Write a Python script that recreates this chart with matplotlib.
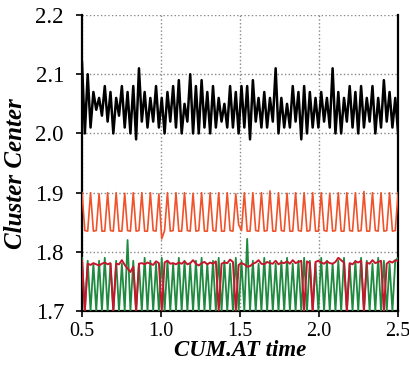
import numpy as np
import matplotlib
matplotlib.use('Agg')
import matplotlib.pyplot as plt

# time axis shared by all four cluster-center traces
t_start, t_end, n_pts = 0.5, 2.5, 112

black_vals = [
    2.12, 2.00, 2.10, 2.01, 2.07, 2.04, 2.06, 2.03,
    2.08, 2.02, 2.07, 2.00, 2.06, 2.03, 2.08, 2.01,
    2.07, 2.00, 2.08, 1.99, 2.11, 2.02, 2.07, 2.01,
    2.06, 2.02, 2.08, 2.01, 2.06, 2.00, 2.07, 2.02,
    2.08, 2.01, 2.09, 2.00, 2.05, 2.02, 2.10, 2.00,
    2.08, 2.00, 2.09, 2.01, 2.07, 2.00, 2.08, 2.01,
    2.06, 2.02, 2.05, 2.01, 2.08, 2.01, 2.07, 2.00,
    2.08, 2.01, 2.08, 1.99, 2.09, 2.02, 2.06, 2.01,
    2.07, 2.01, 2.06, 2.02, 2.11, 2.00, 2.06, 2.01,
    2.05, 2.01, 2.08, 2.02, 2.07, 1.99, 2.08, 2.00,
    2.07, 2.01, 2.06, 2.01, 2.07, 2.02, 2.06, 2.01,
    2.11, 2.00, 2.07, 2.00, 2.06, 2.02, 2.08, 2.01,
    2.07, 2.00, 2.08, 2.01, 2.06, 2.02, 2.08, 2.00,
    2.06, 2.01, 2.09, 2.02, 2.07, 2.01, 2.06, 2.00,
]

orange_vals = [
    1.900, 1.836, 1.835, 1.900, 1.835, 1.836, 1.898, 1.835, 1.835,
    1.900, 1.836, 1.835, 1.900, 1.835, 1.835, 1.899, 1.836, 1.835,
    1.900, 1.835, 1.836, 1.900, 1.835, 1.835, 1.900, 1.836, 1.835,
    1.898, 1.822, 1.836, 1.900, 1.835, 1.836, 1.900, 1.835, 1.835,
    1.900, 1.836, 1.835, 1.899, 1.835, 1.836, 1.900, 1.835, 1.835,
    1.900, 1.836, 1.835, 1.900, 1.835, 1.835, 1.900, 1.836, 1.835,
    1.898, 1.846, 1.836, 1.900, 1.835, 1.835, 1.900, 1.836, 1.835,
    1.900, 1.835, 1.836, 1.903, 1.835, 1.835, 1.900, 1.836, 1.835,
    1.899, 1.835, 1.835, 1.900, 1.836, 1.835, 1.900, 1.835, 1.836,
    1.900, 1.835, 1.835, 1.900, 1.836, 1.835, 1.899, 1.835, 1.836,
    1.900, 1.835, 1.835, 1.900, 1.836, 1.835, 1.900, 1.835, 1.836,
    1.902, 1.835, 1.835, 1.900, 1.836, 1.835, 1.900, 1.835, 1.836,
    1.900, 1.835, 1.836, 1.900,
]

green_vals = [
    1.790, 1.700, 1.785, 1.700, 1.780, 1.700, 1.785, 1.700,
    1.790, 1.700, 1.780, 1.700, 1.785, 1.700, 1.780, 1.700,
    1.820, 1.700, 1.785, 1.700, 1.780, 1.700, 1.790, 1.700,
    1.785, 1.700, 1.780, 1.700, 1.790, 1.700, 1.785, 1.700,
    1.780, 1.700, 1.790, 1.700, 1.785, 1.700, 1.780, 1.700,
    1.785, 1.700, 1.790, 1.700, 1.780, 1.700, 1.785, 1.700,
    1.790, 1.700, 1.785, 1.700, 1.780, 1.700, 1.790, 1.700,
    1.785, 1.700, 1.822, 1.700, 1.785, 1.700, 1.780, 1.700,
    1.790, 1.700, 1.785, 1.700, 1.780, 1.700, 1.785, 1.700,
    1.790, 1.700, 1.780, 1.700, 1.785, 1.700, 1.790, 1.700,
    1.785, 1.700, 1.780, 1.700, 1.790, 1.700, 1.785, 1.700,
    1.780, 1.700, 1.785, 1.700, 1.790, 1.700, 1.780, 1.700,
    1.785, 1.700, 1.790, 1.700, 1.785, 1.700, 1.780, 1.700,
    1.790, 1.700, 1.785, 1.700, 1.780, 1.700, 1.785, 1.790,
]

red_vals = [
    1.785, 1.700, 1.780, 1.778, 1.781, 1.779, 1.777, 1.780,
    1.782, 1.779, 1.781, 1.700, 1.780, 1.779, 1.786, 1.778,
    1.772, 1.766, 1.775, 1.700, 1.780, 1.781, 1.779, 1.782,
    1.780, 1.778, 1.784, 1.781, 1.700, 1.782, 1.785, 1.780,
    1.781, 1.779, 1.782, 1.780, 1.784, 1.779, 1.781, 1.786,
    1.780, 1.777, 1.781, 1.783, 1.779, 1.782, 1.780, 1.784,
    1.700, 1.780, 1.782, 1.781, 1.787, 1.783, 1.700, 1.778,
    1.781, 1.779, 1.775, 1.776, 1.780, 1.782, 1.786, 1.780,
    1.779, 1.783, 1.781, 1.780, 1.785, 1.779, 1.782, 1.781,
    1.784, 1.780, 1.786, 1.781, 1.783, 1.785, 1.700, 1.784,
    1.781, 1.700, 1.783, 1.785, 1.782, 1.780, 1.784, 1.781,
    1.780, 1.783, 1.790, 1.786, 1.782, 1.700, 1.781, 1.779,
    1.784, 1.782, 1.785, 1.700, 1.782, 1.780, 1.786, 1.781,
    1.783, 1.785, 1.700, 1.780, 1.784, 1.782, 1.786, 1.785,
]

x_ticks = [0.5, 1.0, 1.5, 2.0, 2.5]
y_ticks = [1.7, 1.8, 1.9, 2.0, 2.1, 2.2]

t = np.linspace(t_start, t_end, n_pts)

fig = plt.figure(figsize=(4.1, 3.66), dpi=100)
ax = fig.add_axes([0.2, 0.150, 0.771, 0.809])

ax.plot(t, black_vals, color='black', lw=1.8, zorder=3)
ax.plot(t, orange_vals, color='#f0522a', lw=1.2, zorder=3)
ax.plot(t, green_vals, color='#1f8a3f', lw=1.3, zorder=3)
ax.plot(t, red_vals, color='#c4172c', lw=1.4, zorder=4)

ax.set_xlim(0.5, 2.5)
ax.set_ylim(1.7, 2.2)
ax.set_xticks(x_ticks)
ax.set_yticks(y_ticks)
ax.set_xticklabels([f"{v:.1f}" for v in x_ticks], fontfamily='Liberation Serif', fontsize=14.5)
ax.set_yticklabels([f"{v:.1f}" for v in y_ticks], fontfamily='Liberation Serif', fontsize=16.5)

ax.grid(True, color='#888888', linestyle=':', linewidth=1.0)
ax.set_axisbelow(True)

ax.spines['top'].set_visible(False)
for side in ('left', 'bottom', 'right'):
    ax.spines[side].set_linewidth(1.6)
    ax.spines[side].set_color('black')
ax.tick_params(axis='y', direction='out', length=4, width=1.2, pad=9, right=False)
ax.tick_params(axis='x', direction='out', length=4, width=1.2, pad=4)

ax.set_xlabel('CUM.AT time', fontfamily='Liberation Serif', fontsize=16.5,
              fontweight='bold', fontstyle='italic', labelpad=-1)
ax.set_ylabel('Cluster Center', fontfamily='Liberation Serif', fontsize=18,
              fontweight='bold', fontstyle='italic')
ax.yaxis.set_label_coords(-0.174, 0.463)

fig.savefig('out.png', dpi=100)
plt.close(fig)
